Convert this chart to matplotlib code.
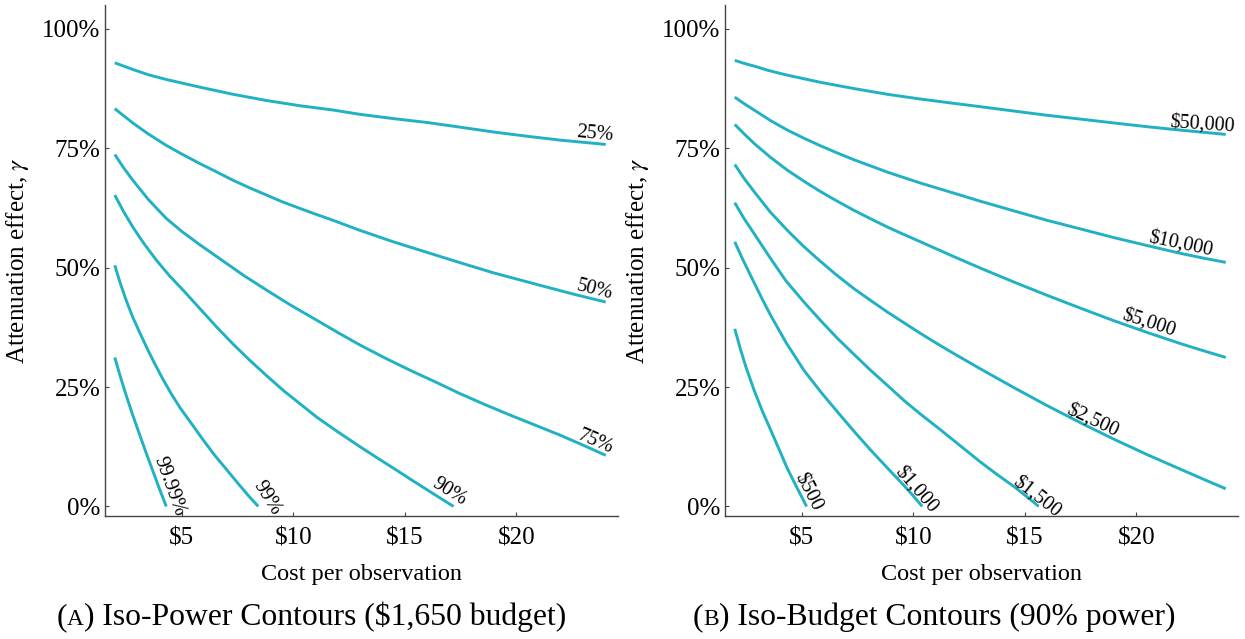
import matplotlib
matplotlib.use("Agg")
import matplotlib.pyplot as plt

plt.rcParams['font.family'] = ['Liberation Serif', 'DejaVu Serif']
plt.rcParams['mathtext.fontset'] = 'stix'

LINE_COLOR = "#20B1C2"
SPINE_COLOR = "#444444"

# ---- panel A: iso-power contours ($1,650 budget) ----
p25_x = [2.0, 2.4, 2.81, 3.5, 4.31, 5.81, 7.30, 8.80, 10.30, 11.79, 12.99, 14.5, 15.99, 17.5, 18.98, 20.5, 21.97, 24.0]
p25_y = [0.929, 0.922, 0.915, 0.904, 0.894, 0.878, 0.863, 0.850, 0.839, 0.830, 0.821, 0.812, 0.804, 0.794, 0.784, 0.775, 0.767, 0.758]

p50_x = [2.0, 2.4, 2.81, 3.5, 4.31, 5.0, 5.81, 6.5, 7.30, 8.0, 8.80, 9.5, 10.30, 11.0, 11.79,
         12.99, 14.49, 15.99, 17.5, 18.98, 20.1, 21.22, 22.6, 24.0]
p50_y = [0.833, 0.818, 0.803, 0.780, 0.756, 0.738, 0.718, 0.702, 0.683, 0.668, 0.652, 0.638, 0.624, 0.612, 0.599,
         0.578, 0.554, 0.532, 0.510, 0.489, 0.475, 0.461, 0.444, 0.428]

p75_x = [2.0, 2.4, 2.81, 3.5, 4.31, 5.0, 5.81, 6.82, 7.8, 8.80, 9.9, 11.05, 12.0, 12.99, 14.1,
         15.24, 16.4, 17.48, 18.6, 19.73, 20.85, 21.97, 23.0, 24.0]
p75_y = [0.737, 0.709, 0.683, 0.643, 0.603, 0.576, 0.548, 0.515, 0.483, 0.453, 0.421, 0.390, 0.364, 0.338, 0.311,
         0.285, 0.260, 0.236, 0.213, 0.191, 0.170, 0.149, 0.128, 0.107]

p90_x = [2.0, 2.4, 2.81, 3.3, 3.86, 4.45, 5.06, 5.8, 6.56, 7.3, 8.05, 8.8, 9.55, 10.3, 11.05,
         12.0, 12.99, 13.75, 14.49, 15.25, 15.99, 16.6, 17.18]
p90_y = [0.652, 0.617, 0.585, 0.551, 0.516, 0.483, 0.453, 0.415, 0.376, 0.340, 0.306, 0.274, 0.243, 0.215, 0.187,
         0.156, 0.125, 0.102, 0.080, 0.057, 0.035, 0.017, 0.0]

p99_x = [2.0, 2.25, 2.51, 2.8, 3.11, 3.45, 3.79, 4.15, 4.53, 4.95, 5.43, 5.95, 6.48, 7.05, 7.60, 8.0, 8.43]
p99_y = [0.505, 0.467, 0.432, 0.397, 0.365, 0.331, 0.299, 0.267, 0.236, 0.205, 0.174, 0.140, 0.107, 0.075, 0.044, 0.022, 0.0]

p9999_x = [2.0, 2.25, 2.51, 2.8, 3.11, 3.4, 3.71, 4.0, 4.31]
p9999_y = [0.312, 0.272, 0.233, 0.192, 0.151, 0.113, 0.074, 0.037, 0.0]

power_labels = ["25%", "50%", "75%", "90%", "99%", "99.99%"]
# label anchor (x, y) and rotation in degrees
power_label_x = [23.5, 23.5, 23.54, 16.99, 8.82, 4.46]
power_label_y = [0.780, 0.453, 0.135, 0.030, 0.017, 0.042]
power_label_rot = [-5, -14, -23, -32, -58, -70]

# ---- panel B: iso-budget contours (90% power) ----
b50k_x = [2.0, 2.4, 2.87, 3.5, 4.36, 5.85, 7.34, 8.84, 10.33, 11.82, 13.01, 14.5, 16.0, 17.5, 18.98, 20.5, 21.97, 24.0]
b50k_y = [0.934, 0.928, 0.922, 0.913, 0.903, 0.888, 0.875, 0.863, 0.853, 0.844, 0.837, 0.828, 0.819, 0.811, 0.803, 0.795, 0.788, 0.779]

b10k_x = [2.0, 2.4, 2.87, 3.6, 4.36, 5.1, 5.85, 6.6, 7.34, 8.84, 10.33, 11.82, 13.01, 14.5, 16.0,
          17.5, 18.98, 20.5, 21.97, 23.0, 24.0]
b10k_y = [0.857, 0.844, 0.830, 0.808, 0.788, 0.771, 0.755, 0.740, 0.726, 0.700, 0.677, 0.656, 0.639, 0.619, 0.599,
          0.581, 0.563, 0.546, 0.530, 0.520, 0.511]

b5k_x = [2.0, 2.4, 2.87, 3.6, 4.36, 5.1, 5.85, 6.6, 7.34, 8.1, 8.84, 9.6, 10.33, 11.1, 11.82,
         13.01, 14.5, 16.0, 17.5, 18.98, 20.5, 21.97, 23.0, 24.0]
b5k_y = [0.800, 0.781, 0.760, 0.731, 0.704, 0.681, 0.659, 0.639, 0.620, 0.602, 0.585, 0.569, 0.554, 0.538, 0.523,
         0.499, 0.470, 0.442, 0.415, 0.389, 0.364, 0.341, 0.326, 0.312]

b2500_x = [2.0, 2.4, 2.87, 3.6, 4.36, 5.05, 5.77, 6.55, 7.34, 8.1, 8.84, 9.6, 10.33, 11.1, 11.82,
           13.01, 14.5, 16.0, 17.5, 18.98, 20.5, 21.97, 23.0, 24.0]
b2500_y = [0.716, 0.688, 0.659, 0.616, 0.578, 0.546, 0.516, 0.485, 0.456, 0.431, 0.407, 0.384, 0.362, 0.340, 0.320,
           0.288, 0.249, 0.211, 0.175, 0.141, 0.108, 0.078, 0.057, 0.037]

b1500_x = [2.0, 2.4, 2.87, 3.55, 4.3, 5.10, 5.85, 6.60, 7.35, 8.09, 8.85, 9.58, 10.3, 11.07,
           12.0, 13.01, 13.75, 14.50, 15.1, 15.62]
b1500_y = [0.636, 0.604, 0.571, 0.523, 0.472, 0.428, 0.389, 0.352, 0.318, 0.285, 0.253, 0.222, 0.194, 0.166,
           0.131, 0.093, 0.067, 0.042, 0.020, 0.0]

b1000_x = [2.0, 2.35, 2.8, 3.2, 3.61, 4.3, 5.10, 5.85, 6.60, 7.35, 8.09, 8.85, 9.58, 10.0, 10.40]
b1000_y = [0.554, 0.518, 0.475, 0.437, 0.400, 0.343, 0.285, 0.240, 0.198, 0.157, 0.118, 0.080, 0.044, 0.022, 0.0]

b500_x = [2.0, 2.25, 2.5, 2.87, 3.25, 3.61, 4.0, 4.36, 4.8, 5.22]
b500_y = [0.372, 0.330, 0.292, 0.243, 0.198, 0.160, 0.118, 0.079, 0.038, 0.0]

budget_labels = ["$50,000", "$10,000", "$5,000", "$2,500", "$1,500", "$1,000", "$500"]
budget_label_x = [22.95, 22.0, 20.53, 18.03, 15.52, 10.14, 5.26]
budget_label_y = [0.800, 0.549, 0.384, 0.180, 0.020, 0.036, 0.030]
budget_label_rot = [-4, -12, -18, -25, -38, -49, -63]

x_ticks = [5, 10, 15, 20]
x_tick_labels = ["$5", "$10", "$15", "$20"]
y_ticks = [0, 0.25, 0.5, 0.75, 1.0]
y_tick_labels = ["0%", "25%", "50%", "75%", "100%"]


def esc(s):
    return s.replace("$", r"\$")


def style_axes(ax):
    ax.set_xlim(1.55, 24.55)
    ax.set_ylim(-0.02, 1.05)
    for side in ["top", "right"]:
        ax.spines[side].set_visible(False)
    for side in ["left", "bottom"]:
        ax.spines[side].set_color(SPINE_COLOR)
        ax.spines[side].set_linewidth(1.0)
    ax.set_xticks(x_ticks)
    ax.set_xticklabels([esc(t) for t in x_tick_labels])
    ax.set_yticks(y_ticks)
    ax.set_yticklabels(y_tick_labels)
    ax.tick_params(direction="in", length=3, width=0.8, color=SPINE_COLOR,
                   labelsize=18)
    ax.tick_params(axis="y", pad=3)
    ax.tick_params(axis="x", pad=8)
    ax.set_xlabel("Cost per observation", fontsize=17.5, labelpad=11)
    ax.set_ylabel(r"Attenuation effect, $\gamma$", fontsize=18, labelpad=8)


fig = plt.figure(figsize=(12.45, 6.39), dpi=100)
ax1 = fig.add_axes([0.0841, 0.1925, 0.4123, 0.7997])
ax2 = fig.add_axes([0.5821, 0.1925, 0.4123, 0.7997])

power_curves = [(p25_x, p25_y), (p50_x, p50_y), (p75_x, p75_y),
                (p90_x, p90_y), (p99_x, p99_y), (p9999_x, p9999_y)]
for cx, cy in power_curves:
    ax1.plot(cx, cy, color=LINE_COLOR, lw=2.1, solid_capstyle="butt",
             solid_joinstyle="round")
for lab, lx, ly, rot in zip(power_labels, power_label_x, power_label_y, power_label_rot):
    ax1.text(lx, ly, lab, fontsize=14.5, rotation=rot, rotation_mode="anchor",
             ha="center", va="center")

budget_curves = [(b50k_x, b50k_y), (b10k_x, b10k_y), (b5k_x, b5k_y),
                 (b2500_x, b2500_y), (b1500_x, b1500_y), (b1000_x, b1000_y),
                 (b500_x, b500_y)]
for cx, cy in budget_curves:
    ax2.plot(cx, cy, color=LINE_COLOR, lw=2.1, solid_capstyle="butt",
             solid_joinstyle="round")
for lab, lx, ly, rot in zip(budget_labels, budget_label_x, budget_label_y, budget_label_rot):
    ax2.text(lx, ly, esc(lab), fontsize=14.5, rotation=rot, rotation_mode="anchor",
             ha="center", va="center")

style_axes(ax1)
style_axes(ax2)

# captions with a small-caps panel letter
renderer = fig.canvas.get_renderer()
W = fig.get_figwidth() * fig.dpi


def caption(center_frac, letter, rest, y=0.022, size=22.8):
    parts = [("(", size), (letter, size * 0.74), (rest, size)]
    texts = [fig.text(0, y, s, fontsize=fs, va="baseline", ha="left") for s, fs in parts]
    widths = [t.get_window_extent(renderer).width for t in texts]
    start = center_frac * W - sum(widths) / 2
    for t, w in zip(texts, widths):
        t.set_x(start / W)
        start += w


caption(0.25, "A", esc(") Iso-Power Contours ($1,650 budget)"))
caption(0.75, "B", ") Iso-Budget Contours (90% power)")

fig.savefig("out.png", dpi=100)
